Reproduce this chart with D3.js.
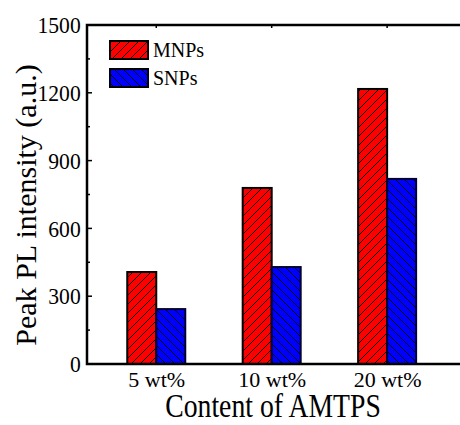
<!DOCTYPE html>
<html>
<head>
<meta charset="utf-8">
<script src="https://cdn.jsdelivr.net/npm/d3@7"></script>
<style>
  body { margin: 0; background: #fff; }
  svg { display: block; font-family: "Liberation Serif", "Times New Roman", serif; }
</style>
</head>
<body>
<div class="visHolder"></div>
<script>
let categories = ['5 wt%', '10 wt%', '20 wt%'];
let mnps = [407, 779, 1217];
let snps = [243, 429, 819];
let yTicks = [0, 300, 600, 900, 1200, 1500];

let width = 460;
let height = 425;
let padLeft = 87, padRight = 461, padTop = 25, padBottom = 364;

let svg = d3.select('.visHolder').append('svg')
  .attr('width', width)
  .attr('height', height);

let defs = svg.append('defs');
function hatch(id, color, dir) {
  let p = defs.append('pattern')
    .attr('id', id)
    .attr('patternUnits', 'userSpaceOnUse')
    .attr('width', 9).attr('height', 9);
  p.append('rect').attr('width', 9).attr('height', 9).attr('fill', color);
  let d = dir > 0 ? 'M-2,2 L2,-2 M0,9 L9,0 M7,11 L11,7' : 'M-2,7 L2,11 M0,0 L9,9 M7,-2 L11,2';
  p.append('path').attr('d', d).attr('stroke', '#000').attr('stroke-width', 1);
}
hatch('hRed', '#ff0000', 1);
hatch('hBlue', '#0000ff', -1);

let xScale = d3.scaleLinear().domain([-0.6, 2.64]).range([padLeft, padRight]);
let yScale = d3.scaleLinear().domain([0, 1500]).range([padBottom, padTop]);
let barW = 29;

// bars
let series = [
  { name: 'MNPs', values: mnps, fill: 'url(#hRed)', stroke: '#000', off: -1 },
  { name: 'SNPs', values: snps, fill: 'url(#hBlue)', stroke: '#000033', off: 0 }
];
series.forEach(s => {
  svg.append('g').selectAll('rect')
    .data(s.values)
    .join('rect')
    .attr('x', (d, i) => xScale(i) + s.off * barW)
    .attr('y', d => yScale(d))
    .attr('width', barW)
    .attr('height', d => yScale(0) - yScale(d))
    .attr('fill', s.fill)
    .attr('stroke', s.stroke)
    .attr('stroke-width', 2);
});

// left axis
let yAxis = d3.axisLeft(yScale).tickValues(yTicks).tickFormat(d3.format('d')).tickSize(0).tickPadding(7);
let gy = svg.append('g')
  .attr('transform', 'translate(' + padLeft + ',0)')
  .call(yAxis);
gy.attr('font-family', null);
gy.select('.domain').remove();
gy.selectAll('text')
  .style('font-family', '"Liberation Serif", serif')
  .style('font-size', '24px')
  .attr('fill', '#000')
  .attr('transform', 'scale(0.9,1)');

// inward ticks (major + minor)
let allTicks = d3.range(0, 1501, 150);
svg.append('g').selectAll('line')
  .data(allTicks)
  .join('line')
  .attr('x1', padLeft).attr('x2', d => padLeft + (d % 300 === 0 ? 5 : 3))
  .attr('y1', d => yScale(d)).attr('y2', d => yScale(d))
  .attr('stroke', '#000').attr('stroke-width', 1.5);

// bottom axis labels
let gx = svg.append('g')
  .attr('transform', 'translate(0,' + padBottom + ')')
  .call(d3.axisBottom(xScale).tickValues([0, 1, 2]).tickFormat((d) => categories[d]).tickSize(0).tickPadding(7));
gx.attr('font-family', null);
gx.select('.domain').remove();
gx.selectAll('text')
  .style('font-family', '"Liberation Serif", serif')
  .style('font-size', '22px')
  .attr('fill', '#000');

// top ticks
svg.append('g').selectAll('line')
  .data([0, 1, 2])
  .join('line')
  .attr('x1', d => xScale(d)).attr('x2', d => xScale(d))
  .attr('y1', padTop).attr('y2', padTop + 3)
  .attr('stroke', '#000').attr('stroke-width', 1.5);

// frame
svg.append('path')
  .attr('d', 'M' + (padRight + 5) + ',' + padTop + ' L' + padLeft + ',' + padTop + ' L' + padLeft + ',' + padBottom + ' L' + (padRight + 5) + ',' + padBottom)
  .attr('fill', 'none').attr('stroke', '#000').attr('stroke-width', 2.5);

// legend
let legend = svg.append('g');
series.forEach((s, i) => {
  legend.append('rect')
    .attr('x', 110).attr('y', 41 + i * 28)
    .attr('width', 38).attr('height', 18)
    .attr('fill', s.fill).attr('stroke', '#000').attr('stroke-width', 2);
  legend.append('text')
    .attr('x', 153).attr('y', 57 + i * 28)
    .attr('font-size', 20)
    .text(s.name);
});

// axis titles
svg.append('text')
  .attr('transform', 'translate(273,417) scale(0.84,1)')
  .attr('text-anchor', 'middle')
  .attr('font-size', 33)
  .text('Content of AMTPS');

svg.append('text')
  .attr('transform', 'translate(36,205) rotate(-90)')
  .attr('text-anchor', 'middle')
  .attr('font-size', 30)
  .text('Peak PL intensity (a.u.)');
</script>
</body>
</html>
